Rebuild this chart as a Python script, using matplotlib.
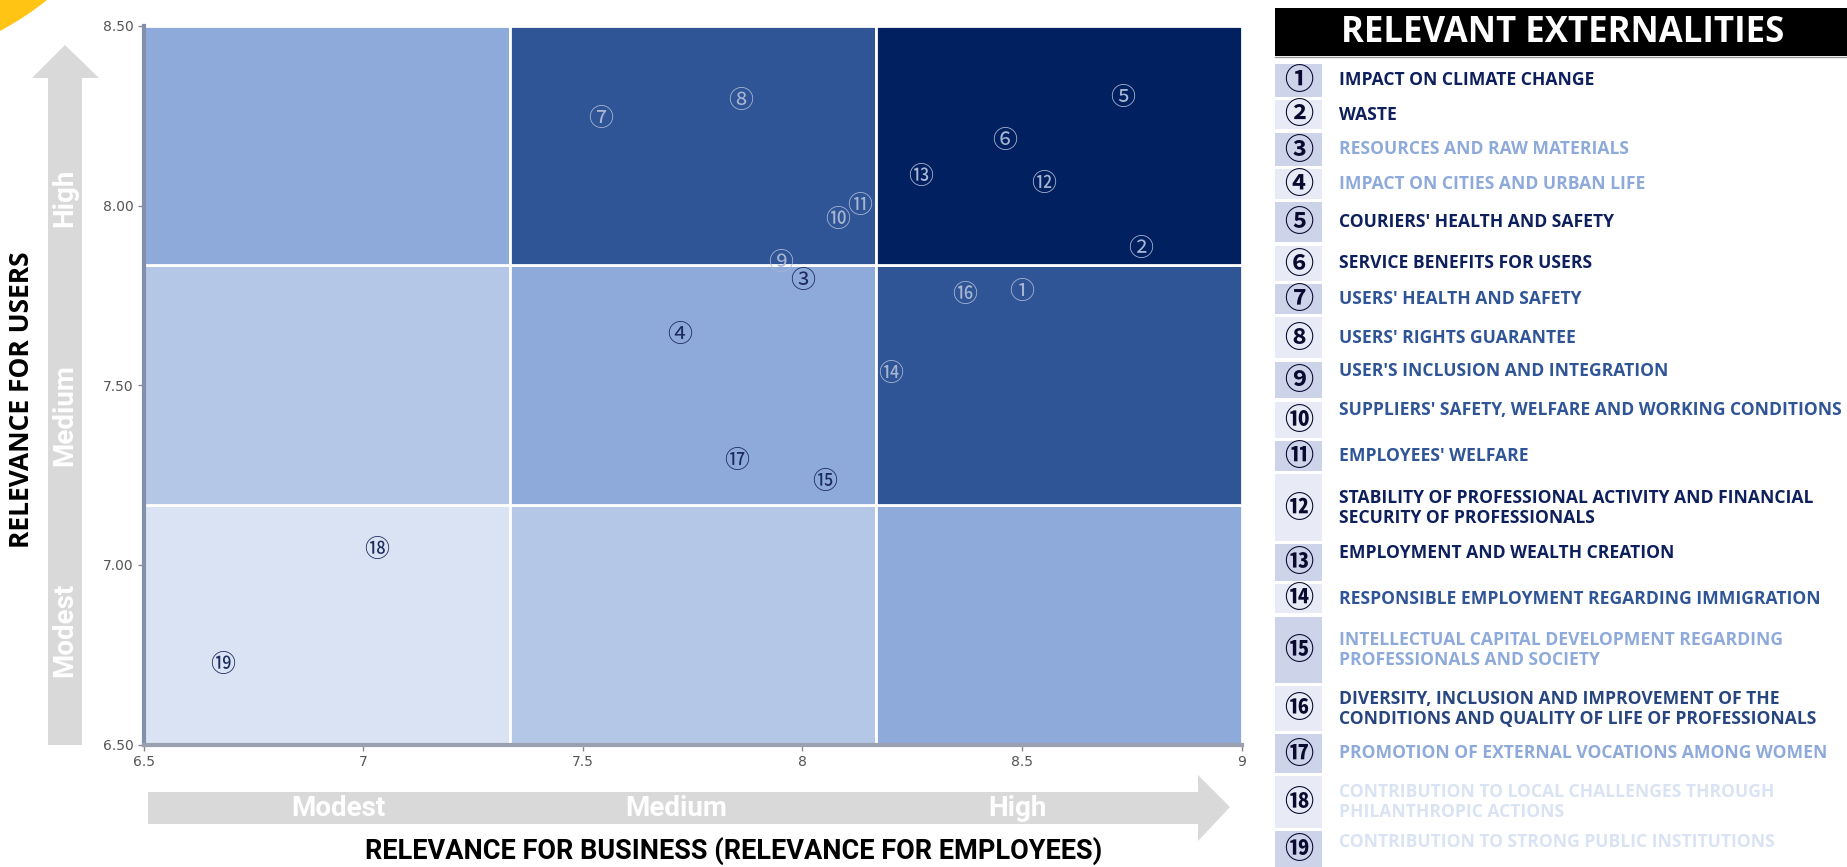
import matplotlib.pyplot as plt
from matplotlib.patches import Rectangle, Polygon, PathPatch
from matplotlib.path import Path

# points (business relevance, user relevance)
ext_x = [8.50, 8.77, 8.00, 7.72, 8.73, 8.46, 7.54, 7.86, 7.95, 8.08,
         8.13, 8.55, 8.27, 8.20, 8.05, 8.37, 7.85, 7.03, 6.68]
ext_y = [7.76, 7.88, 7.79, 7.64, 8.30, 8.18, 8.24, 8.29, 7.84, 7.96,
         8.00, 8.06, 8.08, 7.53, 7.23, 7.75, 7.29, 7.04, 6.72]

ext_names = [
    "IMPACT ON CLIMATE CHANGE",
    "WASTE",
    "RESOURCES AND RAW MATERIALS",
    "IMPACT ON CITIES AND URBAN LIFE",
    "COURIERS' HEALTH AND SAFETY",
    "SERVICE BENEFITS FOR USERS",
    "USERS' HEALTH AND SAFETY",
    "USERS' RIGHTS GUARANTEE",
    "USER'S INCLUSION AND INTEGRATION",
    "SUPPLIERS' SAFETY, WELFARE AND WORKING CONDITIONS",
    "EMPLOYEES' WELFARE",
    "STABILITY OF PROFESSIONAL ACTIVITY AND FINANCIAL\nSECURITY OF PROFESSIONALS",
    "EMPLOYMENT AND WEALTH CREATION",
    "RESPONSIBLE EMPLOYMENT REGARDING IMMIGRATION",
    "INTELLECTUAL CAPITAL DEVELOPMENT REGARDING\nPROFESSIONALS AND SOCIETY",
    "DIVERSITY, INCLUSION AND IMPROVEMENT OF THE\nCONDITIONS AND QUALITY OF LIFE OF PROFESSIONALS",
    "PROMOTION OF EXTERNAL VOCATIONS AMONG WOMEN",
    "CONTRIBUTION TO LOCAL CHALLENGES THROUGH\nPHILANTHROPIC ACTIONS",
    "CONTRIBUTION TO STRONG PUBLIC INSTITUTIONS",
]

x_ticks = [6.5, 7, 7.5, 8, 8.5, 9]
x_tick_labels = ["6.5", "7", "7.5", "8", "8.5", "9"]
y_ticks = [6.5, 7.0, 7.5, 8.0, 8.5]
y_tick_labels = ["6.50", "7.00", "7.50", "8.00", "8.50"]
levels = ["Modest", "Medium", "High"]

# colours
shades = ["#dae3f3", "#b4c7e7", "#8eaadb", "#2f5597", "#002060"]
navy = "#0d1f5c"
mid = "#2f5597"
light = "#8eaadb"
pale = "#dae3f3"
name_colors = [navy, navy, light, light, navy, navy, mid, mid, mid, mid,
               mid, navy, navy, mid, light, "#27457f", light, pale, pale]

# legend rows in pixels (top, bottom, text centre)
rows = [(64, 97, 80), (100, 129, 115), (133, 166, 149), (169, 199, 184),
        (202, 242, 222), (246, 281, 263), (284, 314, 299), (317, 358, 338),
        (362, 398, 371), (402, 438, 410), (441, 471, 456), (474, 541, 508),
        (544, 581, 553), (584, 613, 599), (617, 683, 650), (686, 731, 709),
        (734, 773, 753), (776, 828, 802), (831, 867, 842)]

W, H = 1847, 867
fig = plt.figure(figsize=(W / 100, H / 100), dpi=100)
font = ['Open Sans', 'DejaVu Sans']
narrow = ['Liberation Sans Narrow', 'Roboto', 'DejaVu Sans']
circ = ['Noto Sans CJK JP', 'DejaVu Sans']

# overlay in pixel coordinates
ov = fig.add_axes([0, 0, 1, 1], zorder=0)
ov.set_xlim(0, W)
ov.set_ylim(H, 0)
ov.axis('off')

# yellow corner
corner = Path([(0, 0), (47, 0), (26, 17), (0, 31), (0, 0)],
              [Path.MOVETO, Path.LINETO, Path.CURVE3, Path.CURVE3, Path.CLOSEPOLY])
ov.add_patch(PathPatch(corner, fc="#ffc414", ec="none"))

# vertical arrow
arrow_c = "#d9d9d9"
ov.add_patch(Polygon([(48, 745), (48, 78), (32, 78), (65, 45), (99, 78),
                      (82, 78), (82, 745)], closed=True, fc=arrow_c, ec="none"))
for lab, yy in zip(levels, [630, 415, 198]):
    ov.text(65, yy, lab, rotation=90, ha='center', va='center', color='white',
            fontsize=20, fontweight='bold', family=narrow)
ov.text(22, 400, "RELEVANCE FOR USERS", rotation=90, ha='center', va='center',
        fontsize=19, fontweight='bold', family=font, color='black')

# horizontal arrow
ov.add_patch(Polygon([(148, 792), (1198, 792), (1198, 775), (1230, 807),
                      (1198, 841), (1198, 824), (148, 824)], closed=True,
                     fc=arrow_c, ec="none"))
for lab, xx in zip(levels, [338, 676, 1017]):
    ov.text(xx, 808, lab, ha='center', va='center', color='white',
            fontsize=20, fontweight='bold', family=narrow)
ov.text(734, 851, "RELEVANCE FOR BUSINESS (RELEVANCE FOR EMPLOYEES)",
        ha='center', va='center', fontsize=19.5, fontweight='bold',
        family=narrow, color='black')

# legend
ov.add_patch(Rectangle((1275, 8), W - 1275, 48, fc='black', ec='none'))
ov.plot([1275, W], [57, 57], color='#999999', lw=1)
ov.text(1563, 33, "RELEVANT EXTERNALITIES", ha='center', va='center',
        color='white', fontsize=25, fontweight='bold', family=font)
for i, (name, col, (t, b, yc)) in enumerate(zip(ext_names, name_colors, rows)):
    box = "#cdd4ea" if i % 2 == 0 else "#e8ebf6"
    ov.add_patch(Rectangle((1275, t), 47, b - t, fc=box, ec='none'))
    ov.text(1299, (t + b) / 2, chr(0x2460 + i), ha='center', va='center',
            fontsize=21, fontweight='bold', color='#0a0a30', family=circ)
    ov.text(1339, yc, name, ha='left', va='center', color=col, fontsize=12.6,
            fontweight='bold', family=font, linespacing=1.1)

# main matrix
ax = fig.add_axes([143.7 / W, 1 - 744.5 / H, 1097.9 / W, 718.6 / H], zorder=1)
x0, x1, y0, y1 = 6.5, 9.0, 6.5, 8.5
dx, dy = (x1 - x0) / 3, (y1 - y0) / 3
for r in range(3):
    for c in range(3):
        ax.add_patch(Rectangle((x0 + c * dx, y0 + r * dy), dx, dy,
                               fc=shades[r + c], ec='white', lw=2))

for i, (px, py) in enumerate(zip(ext_x, ext_y)):
    c = min(int((px - x0) / dx), 2)
    r = min(int((py - y0) / dy), 2)
    tc = "#a9b6d3" if r + c >= 3 else "#1d2b5e"
    ax.text(px, py, chr(0x2460 + i), ha='center', va='center', fontsize=18,
            color=tc, family=circ)

ax.set_xlim(x0, x1)
ax.set_ylim(y0, y1)
ax.set_xticks(x_ticks, x_tick_labels)
ax.set_yticks(y_ticks, y_tick_labels)
for s in ['top', 'right']:
    ax.spines[s].set_visible(False)
ax.spines['left'].set_color('#8390ad')
ax.spines['bottom'].set_color('#9aa0ae')
ax.spines['left'].set_linewidth(3)
ax.spines['bottom'].set_linewidth(3)
ax.tick_params(colors='#8a8a8a', labelcolor='#555555', labelsize=10,
               length=4, width=1)

fig.savefig("out.png", dpi=100)
